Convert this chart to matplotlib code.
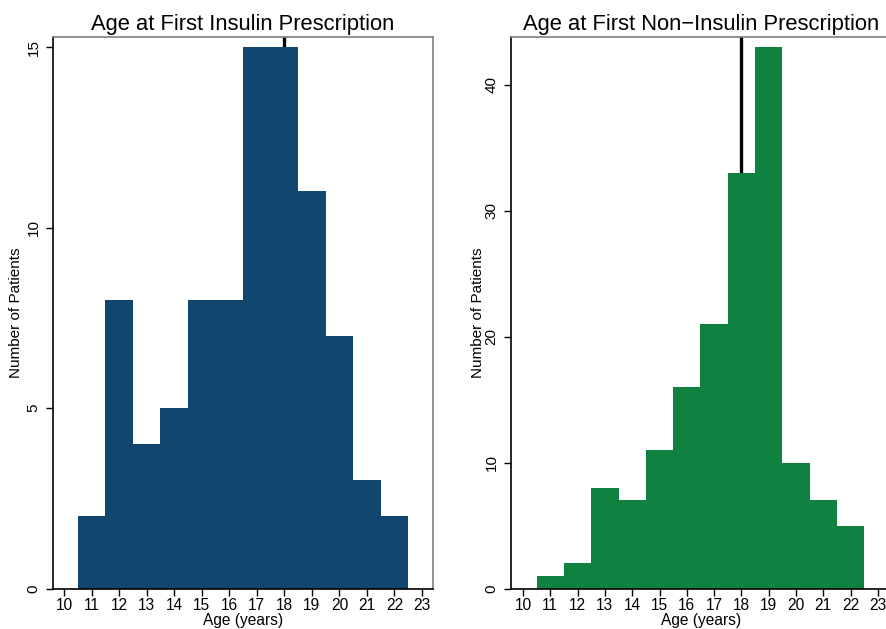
import matplotlib
matplotlib.use("Agg")
import matplotlib.pyplot as plt

plt.rcParams["font.family"] = ["Liberation Sans", "DejaVu Sans"]

ages = [11, 12, 13, 14, 15, 16, 17, 18, 19, 20, 21, 22]
insulin_counts = [2, 8, 4, 5, 8, 8, 15, 15, 11, 7, 3, 2]
noninsulin_counts = [1, 2, 8, 7, 11, 16, 21, 33, 43, 10, 7, 5]
xticks = list(range(10, 24))
insulin_yticks = [0, 5, 10, 15]
noninsulin_yticks = [0, 10, 20, 30, 40]
median_age = 18

W, H = 887, 629
fig = plt.figure(figsize=(W / 100, H / 100), dpi=100)


def panel(left_px, counts, color, yticks, ytop, xlim, title, ylab_x):
    ax = fig.add_axes([left_px / W, (H - 588.5) / H, 380 / W, (588.5 - 37) / H])
    ax.axvline(median_age, color="black", lw=2.4, zorder=1)
    ax.bar(ages, counts, width=1.0, color=color, linewidth=0, zorder=2)
    ax.set_xlim(*xlim)
    ax.set_ylim(0, ytop)
    ax.set_xticks(xticks)
    ax.set_yticks(yticks)
    ax.tick_params(axis="x", length=5, width=1, pad=2, labelsize=11.2)
    ax.tick_params(axis="y", length=5, width=1, pad=4, labelsize=11,
                   labelrotation=90)
    for lab in ax.get_yticklabels():
        lab.set_va("center")
    for side in ("top", "right"):
        ax.spines[side].set_color("#7f7f7f")
    for sp in ax.spines.values():
        sp.set_linewidth(1.2)
    ax.set_title(title, fontsize=15.8, pad=5)
    ax.set_xlabel("Age (years)", fontsize=11.2, labelpad=0)
    ax.set_ylabel("Number of Patients", fontsize=11)
    ax.yaxis.set_label_coords(ylab_x, 0.5)
    return ax


panel(53, insulin_counts, "#11476F", insulin_yticks, 15.28, (9.6, 23.4),
      "Age at First Insulin Prescription", -0.078)
panel(511, noninsulin_counts, "#0F8140", noninsulin_yticks, 43.8, (9.56, 23.48),
      "Age at First Non\u2212Insulin Prescription", -0.068)

fig.savefig("out.png", dpi=100)
